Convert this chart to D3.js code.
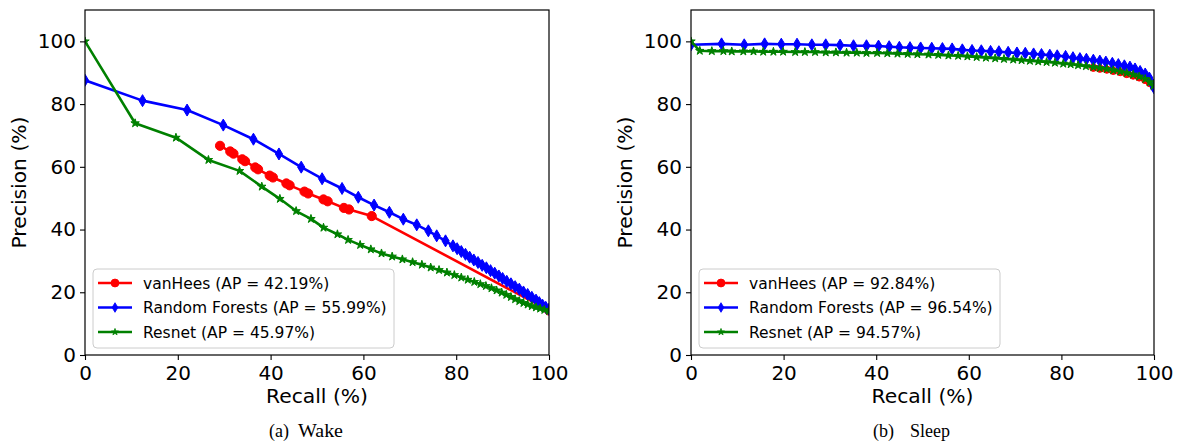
<!DOCTYPE html>
<html>
<head>
<meta charset="utf-8">
<script src="https://cdn.jsdelivr.net/npm/d3@7"></script>
<style>
  html, body { margin: 0; padding: 0; background: #fff; }
  svg { display: block; }
</style>
</head>
<body>
<svg id="chart" width="1178" height="443"></svg>
<script>
// ---------------- DATA ----------------
const recallTicks = [0, 20, 40, 60, 80, 100];
const precisionTicks = [0, 20, 40, 60, 80, 100];
const seriesNames = ["vanHees", "Random Forests", "Resnet"];
const wakeAP = ["42.19%", "55.99%", "45.97%"];
const sleepAP = ["92.84%", "96.54%", "94.57%"];
const captions = ["(a)", "Wake", "(b)", "Sleep"];

// Wake panel: [recall, precision]
const wakeVanHees = [
  [29.1, 66.7], [31.3, 64.9], [32.0, 64.2], [33.9, 62.4], [34.5, 61.8],
  [36.7, 59.8], [37.3, 59.2], [39.8, 57.2], [40.5, 56.6], [43.4, 54.7],
  [44.1, 54.1], [47.3, 52.1], [48.1, 51.5], [51.4, 49.6], [52.3, 49.0],
  [55.8, 46.9], [56.9, 46.4], [61.8, 44.3], [100, 14.2]
];
const wakeRandomForests = [
  [0, 87.6], [12.4, 81.1], [22.0, 78.1], [29.8, 73.3], [36.3, 68.8],
  [41.8, 64.1], [46.6, 59.9], [51.1, 56.2], [55.4, 53.1], [58.9, 50.3],
  [62.3, 47.8], [65.6, 45.5], [68.6, 43.3], [71.5, 41.5], [74.0, 39.6],
  [75.8, 38.0], [77.7, 36.4], [79.3, 34.8], [80.2, 33.9], [81.1, 33.0],
  [82.0, 32.1], [82.9, 31.2], [83.8, 30.3], [84.7, 29.5], [85.6, 28.6],
  [86.5, 27.8], [87.4, 26.9], [88.3, 26.1], [89.2, 25.2], [90.0, 24.4],
  [90.9, 23.5], [91.8, 22.7], [92.7, 21.8], [93.6, 21.0], [94.5, 20.1],
  [95.4, 19.3], [96.3, 18.4], [97.2, 17.5], [97.9, 16.7], [98.6, 15.9],
  [99.3, 15.2], [100, 14.6]
];
const wakeResnet = [
  [0, 100], [10.8, 73.9], [19.6, 69.3], [26.6, 62.2], [33.3, 58.7],
  [38.1, 53.7], [42.0, 49.8], [45.5, 45.9], [48.7, 43.4], [51.4, 40.6],
  [54.4, 38.5], [56.7, 36.7], [59.3, 35.1], [61.6, 33.7], [63.9, 32.4],
  [66.2, 31.4], [68.4, 30.5], [70.6, 29.6], [72.6, 28.8], [74.5, 27.9],
  [76.3, 27.1], [78.0, 26.3], [79.6, 25.5], [81.1, 24.7], [82.5, 24.0],
  [83.9, 23.3], [85.2, 22.6], [86.4, 22.0], [87.6, 21.3], [88.7, 20.6],
  [89.8, 19.9], [90.8, 19.2], [91.8, 18.5], [92.7, 17.8], [93.6, 17.2],
  [94.5, 16.6], [95.4, 16.1], [96.3, 15.6], [97.2, 15.2], [98.1, 14.8],
  [99.0, 14.4], [100, 14.0]
];

// Sleep panel: [recall, precision]
const sleepVanHees = [
  [86.9, 91.6], [88.3, 91.3], [89.8, 91.0], [91.2, 90.6], [92.7, 90.2],
  [94.1, 89.6], [95.5, 89.1], [96.8, 88.5], [98.1, 87.7], [99.1, 86.7], [100, 85.5]
];
const sleepRandomForests = [
  [0, 98.9], [6.6, 99.2], [11.5, 98.9], [15.9, 99.2], [19.5, 99.1],
  [22.9, 99.1], [26.1, 98.9], [29.1, 98.9], [32.2, 98.8], [35.1, 98.6],
  [37.9, 98.6], [40.5, 98.5], [42.8, 98.3], [45.0, 98.1], [47.3, 98.0],
  [49.6, 97.9], [52.0, 97.8], [54.3, 97.7], [56.4, 97.6], [58.6, 97.3],
  [60.7, 97.1], [62.7, 97.0], [64.7, 96.8], [66.5, 96.7], [68.5, 96.5],
  [70.4, 96.3], [72.2, 96.2], [74.0, 96.0], [75.7, 95.8], [77.5, 95.6],
  [79.1, 95.4], [80.9, 95.2], [82.5, 94.8], [84.0, 94.5], [85.4, 94.3],
  [86.9, 94.0], [88.3, 93.7], [89.6, 93.4], [91.0, 93.0], [92.3, 92.6],
  [93.6, 92.2], [94.8, 91.8], [95.9, 91.2], [97.0, 90.4], [98.1, 89.6],
  [99.0, 88.3], [99.8, 86.1], [100, 85.2]
];
const sleepResnet = [
  [0, 100], [1.9, 97.0], [4.5, 96.9], [7.0, 96.9], [8.8, 96.8],
  [11.3, 96.8], [13.5, 96.8], [15.6, 96.7], [17.8, 96.7], [19.9, 96.7],
  [22.5, 96.6], [24.6, 96.6], [26.8, 96.6], [29.1, 96.5], [31.3, 96.5],
  [33.6, 96.4], [35.8, 96.4], [37.9, 96.3], [40.2, 96.3], [42.4, 96.2],
  [44.6, 96.1], [46.8, 96.0], [48.9, 95.9], [51.3, 95.8], [53.4, 95.7],
  [55.6, 95.5], [57.7, 95.4], [59.7, 95.2], [61.7, 95.0], [63.7, 94.8],
  [65.7, 94.6], [67.6, 94.4], [69.6, 94.2], [71.4, 94.0], [73.2, 93.8],
  [75.0, 93.6], [76.8, 93.4], [78.6, 93.2], [80.4, 92.9], [82.0, 92.7],
  [83.6, 92.4], [85.3, 92.1], [86.9, 91.8], [88.3, 91.5], [89.8, 91.2],
  [91.2, 90.8], [92.7, 90.4], [94.1, 89.9], [95.5, 89.4], [96.8, 88.8],
  [98.1, 88.0], [99.1, 87.0], [99.9, 85.8]
];

// ---------------- STYLE / LAYOUT ----------------
const colors = ["#ff0000", "#0000ff", "#008000"];
const markerTypes = ["circle", "diamond", "star"];
const sansFont = "'DejaVu Sans', sans-serif";
const serifFont = "'Liberation Serif', 'Times New Roman', serif";

const svg = d3.select("#chart");
svg.append("rect").attr("width", 1178).attr("height", 443).attr("fill", "#fff");

const panels = [
  { x0: 85, x1: 549, data: [wakeVanHees, wakeRandomForests, wakeResnet], ap: wakeAP,
    ylabelX: 26, cap: [captions[0], captions[1]], capX: [269, 298], capW: 45, redScale: 1 },
  { x0: 691, x1: 1154, data: [sleepVanHees, sleepRandomForests, sleepResnet], ap: sleepAP,
    ylabelX: 632, cap: [captions[2], captions[3]], capX: [873, 910], capW: null, redScale: 0.8 }
];
const yTop = 10, yBot = 355;

function markerPath(type) {
  if (type === "diamond") return "M0,-6L3.6,0L0,6L-3.6,0Z";
  if (type === "star") return d3.symbol(d3.symbolStar, 22)();
  return null;
}

function drawMarker(g, type, color, x, y, scale = 1) {
  if (type === "circle") {
    g.append("circle").attr("cx", x).attr("cy", y).attr("r", 4.6 * scale)
      .attr("fill", color).attr("stroke", color).attr("stroke-width", 1);
  } else {
    g.append("path").attr("d", markerPath(type))
      .attr("transform", `translate(${x},${y}) scale(${scale})`)
      .attr("fill", color).attr("stroke", color).attr("stroke-width", 1);
  }
}

panels.forEach((p, pi) => {
  const x = d3.scaleLinear().domain([0, 100]).range([p.x0, p.x1]);
  const y = d3.scaleLinear().domain([0, 110]).range([yBot, yTop]);

  const clipId = "clip" + pi;
  svg.append("clipPath").attr("id", clipId).append("rect")
    .attr("x", p.x0).attr("y", yTop).attr("width", p.x1 - p.x0).attr("height", yBot - yTop);

  const plot = svg.append("g").attr("clip-path", `url(#${clipId})`);
  const line = d3.line().x(d => x(d[0])).y(d => y(d[1]));

  p.data.forEach((series, si) => {
    const g = plot.append("g");
    g.append("path").datum(series).attr("d", line)
      .attr("fill", "none").attr("stroke", colors[si]).attr("stroke-width", 2.6)
      .attr("stroke-linejoin", "round");
    const sc = si === 0 ? p.redScale : 1;
    series.forEach(d => drawMarker(g, markerTypes[si], colors[si], x(d[0]), y(d[1]), sc));
  });

  // axes
  const xAxis = svg.append("g").attr("transform", `translate(0,${yBot})`)
    .call(d3.axisBottom(x).tickValues(recallTicks).tickSize(5).tickPadding(5.5).tickFormat(d3.format("d")));
  const yAxis = svg.append("g").attr("transform", `translate(${p.x0},0)`)
    .call(d3.axisLeft(y).tickValues(precisionTicks).tickSize(5).tickPadding(4).tickFormat(d3.format("d")));
  [xAxis, yAxis].forEach(a => {
    a.select(".domain").remove();
    a.selectAll("line").attr("stroke", "#000").attr("stroke-width", 1.1);
    a.selectAll("text").attr("font-family", sansFont).attr("font-size", 20).attr("fill", "#000");
  });

  // frame
  svg.append("rect").attr("x", p.x0).attr("y", yTop).attr("width", p.x1 - p.x0).attr("height", yBot - yTop)
    .attr("fill", "none").attr("stroke", "#000").attr("stroke-width", 1.2);

  // axis labels
  svg.append("text").attr("x", (p.x0 + p.x1) / 2).attr("y", 403)
    .attr("text-anchor", "middle").attr("font-family", sansFont).attr("font-size", 20.3)
    .text("Recall (%)");
  svg.append("text").attr("transform", `translate(${p.ylabelX},${(yTop + yBot) / 2}) rotate(-90)`)
    .attr("text-anchor", "middle").attr("font-family", sansFont).attr("font-size", 20.3)
    .text("Precision (%)");

  // legend
  const lx = p.x0 + 8, ly = 269;
  const leg = svg.append("g");
  leg.append("rect").attr("x", lx).attr("y", ly).attr("width", 301).attr("height", 79)
    .attr("rx", 4).attr("fill", "#fff").attr("fill-opacity", 0.8)
    .attr("stroke", "#cccccc").attr("stroke-width", 1);
  seriesNames.forEach((name, si) => {
    const cy = ly + 14 + si * 24.5;
    leg.append("line").attr("x1", lx + 5).attr("x2", lx + 39).attr("y1", cy).attr("y2", cy)
      .attr("stroke", colors[si]).attr("stroke-width", 2.6);
    drawMarker(leg, markerTypes[si], colors[si], lx + 22, cy, si === 0 ? 0.85 : 0.8);
    leg.append("text").attr("x", lx + 50).attr("y", cy + 5.6)
      .attr("font-family", sansFont).attr("font-size", 15.5).attr("fill", "#000")
      .text(`${name} (AP = ${p.ap[si]})`);
  });

  // caption
  svg.append("text").attr("x", p.capX[0]).attr("y", 437)
    .attr("font-family", serifFont).attr("font-size", 18).text(p.cap[0]);
  const c2 = svg.append("text").attr("x", p.capX[1]).attr("y", 437)
    .attr("font-family", serifFont).attr("font-size", 18).text(p.cap[1]);
  if (p.capW) c2.attr("textLength", p.capW).attr("lengthAdjust", "spacingAndGlyphs");
});
</script>
</body>
</html>
